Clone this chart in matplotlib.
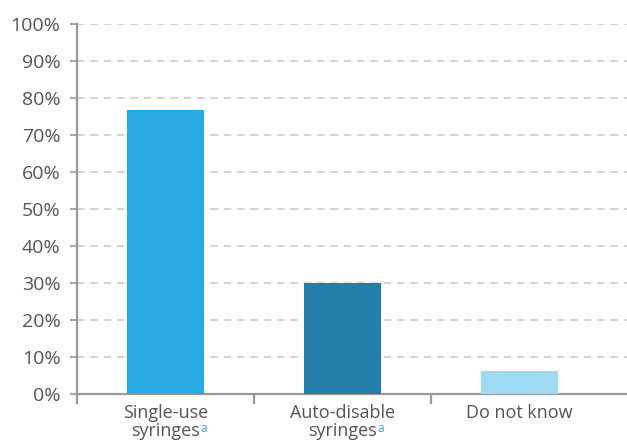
import numpy as np
import matplotlib
matplotlib.use("Agg")
import matplotlib.pyplot as plt
from matplotlib.ticker import FixedLocator, PercentFormatter

plt.rcParams['font.family'] = ['Open Sans', 'DejaVu Sans']

# --- данные ---
label_top = ["Single-use", "Auto-disable", "Do not know"]
label_bottom = ["syringes", "syringes", ""]
footnote = ["a", "a", ""]
values = [76.7, 30.1, 6.2]
bar_colors = ["#29a9e1", "#2480aa", "#9edaf2"]

TXT = "#555555"
AX = "#999999"

fig = plt.figure(figsize=(6.27, 4.41), dpi=100)
ax = fig.add_axes([77 / 627, 47 / 441, 550 / 627, 370 / 441])

x = np.arange(len(values))
ax.bar(x, values, width=0.44, color=bar_colors, zorder=3)

ax.set_xlim(-0.5, -0.5 + 550 / 177)
ax.set_ylim(0, 100)

# сетка пунктиром
ax.yaxis.set_major_locator(FixedLocator(np.arange(0, 101, 10)))
ax.yaxis.set_major_formatter(PercentFormatter(decimals=0))
ax.grid(axis="y", color="#cccccc", lw=1.2, ls=(0, (4.5, 3.5)), zorder=0)
ax.set_axisbelow(True)

for s in ["top", "right"]:
    ax.spines[s].set_visible(False)
for s in ["left", "bottom"]:
    ax.spines[s].set_color(AX)
    ax.spines[s].set_linewidth(1.6)

ax.tick_params(axis="y", length=5, width=1.2, color=AX, pad=7,
               labelsize=14, labelcolor=TXT)
ax.set_xticks(x)
ax.set_xticklabels([])
ax.tick_params(axis="x", which="major", length=0)
ax.xaxis.set_minor_locator(FixedLocator([-0.5, 0.5, 1.5]))
ax.tick_params(axis="x", which="minor", length=7, width=1.6, color=AX)

# подписи категорий: две строки + голубая сноска "a"
for i in x:
    ax.annotate(label_top[i], xy=(i, 0), xycoords=("data", "axes fraction"),
                xytext=(0, -17.5), textcoords="offset points",
                ha="center", va="baseline", fontsize=13, color=TXT,
                annotation_clip=False)
    if label_bottom[i]:
        t2 = ax.annotate(label_bottom[i], xy=(i, 0), xycoords=("data", "axes fraction"),
                         xytext=(0, -30), textcoords="offset points",
                         ha="center", va="baseline", fontsize=13, color=TXT,
                         annotation_clip=False)
        if footnote[i]:
            ax.annotate(footnote[i], xy=(1.0, 0), xycoords=t2,
                        xytext=(0.6, 8.0), textcoords="offset points",
                        ha="left", va="center", fontsize=8.5, color="#29a9e1",
                        annotation_clip=False)

fig.savefig("out.png", dpi=100)
